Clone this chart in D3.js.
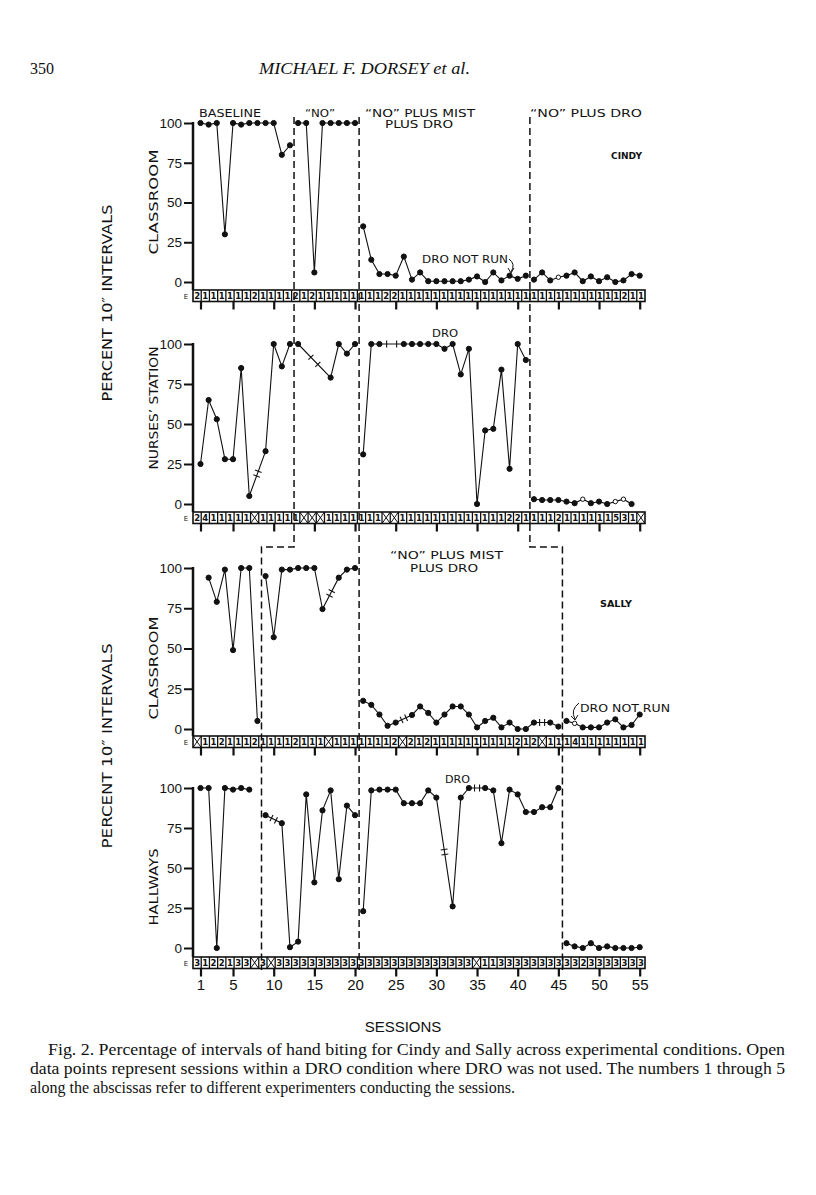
<!DOCTYPE html>
<meta charset="utf-8">
<style>
  body { margin: 0; background: #fff; }
  svg text { fill: #111; }
</style>
<svg id="fig" width="816" height="1195"></svg>
<script src="https://cdn.jsdelivr.net/npm/d3@7"></script>
<script>

var sessions = d3.range(1, 56)
var yTicks = [0, 25, 50, 75, 100]
var sessionTicks = [1, 5, 10, 15, 20, 25, 30, 35, 40, 45, 50, 55]

// condition limits (first and last session of each phase)
var cindyPhases = [[1, 12], [13, 20], [21, 41], [42, 55]]
var sallyPhases = [[1, 8], [9, 20], [21, 45], [46, 55]]

// percent of 10" intervals with hand biting, one value per session (null = no session)
var cindyClassroom = [100, 99, 100, 30, 100, 99, 100, 100, 100, 100, 80, 86,
  100, 100, 6, 100, 100, 100, 100, 100,
  35, 14, 5, 5, 4, 16, 1.5, 6, 0.5, 0.5, 0.5, 0.5, 0.5, 1.5, 3.5, 0, 6, 1, 4, 2, 4,
  1.5, 6, 1, 3, 4, 6, 0.5, 3.5, 0.5, 3, 0, 1, 5, 4]
var cindyNurses = [25, 65, 53, 28, 28, 85, 5, null, 33, 100, 86, 100,
  100, null, null, null, 79, 100, 94, 100,
  31, 100, 100, null, null, 100, 100, 100, 100, 100, 97, 100, 81, 97, 0, 46, 47, 84, 22, 100, 90,
  3, 2.5, 2.5, 2.5, 1.5, 0.5, 3, 0.5, 1.5, 0, 1.5, 3, 0, null]
var sallyClassroom = [null, 94, 79, 99, 49, 100, 100, 5,
  95, 57, 99, 99, 100, 100, 100, 74.5, null, 94, 99, 100,
  17.5, 15, 9, 2, 4, null, 8.7, 14, 10, 4, 9, 14, 14, 9, 1, 5, 7, 1, 4, 0, 0, 4, null, 4, 1.5,
  5, 3.5, 1, 1, 1, 4, 6, 1, 2.5, 9]
var sallyHallways = [100, 100, 0, 100, 99, 100, 99, null,
  83, null, 78, 0.5, 4, 96, 41, 86, 98.5, 43, 89, 83,
  23, 98.5, 99, 99, 99, 90.5, 90.5, 90.5, 98.5, 94, null, 26, 94, 100, null, 100, 98.5, 65.5, 99, 96, 85, 85, 88, 88, 100,
  3, 1, 0, 3, 0, 1, 0, 0, 0, 0.5]

// sessions in a DRO condition where DRO was not used (open points)
var cindyClassroomOpen = [45]
var cindyNursesOpen = [48, 52, 53]
var sallyClassroomOpen = [47]
var sallyHallwaysOpen = []

// experimenter per session, X = no session
var cindyClassroomExp = ("211111121111" + "21211111" + "111221111111111111111" + "11111111111211").split("")
var cindyNursesExp = ("2411111X1111" + "1XXX1111" + "111XX1111111111111221" + "1112111111531X").split("")
var sallyClassroomExp = ("X1121112" + "11112111X111" + "11112X2121111111111212X11" + "1411111111").split("")
var sallyHallwaysExp = ("3122133X" + "3X3333333333" + "33333333333333X1133333333" + "3323333333").split("")

var svg = d3.select("#fig")
var x = d3.scaleLinear().domain([1, 55]).range([200.5, 639.7])
var xb = d3.scaleBand().domain(sessions).range([193, 645])
var letter = "DejaVu Sans, sans-serif"
var narrow = "Liberation Sans Narrow, Liberation Sans, sans-serif"
var serif = "Liberation Serif, Times New Roman, serif"

var panels = [
  {values: cindyClassroom, open: cindyClassroomOpen, exps: cindyClassroomExp, phases: cindyPhases, top: 123, bottom: 282, row: 290},
  {values: cindyNurses, open: cindyNursesOpen, exps: cindyNursesExp, phases: cindyPhases, top: 344, bottom: 504, row: 512},
  {values: sallyClassroom, open: sallyClassroomOpen, exps: sallyClassroomExp, phases: sallyPhases, top: 568, bottom: 729, row: 736},
  {values: sallyHallways, open: sallyHallwaysOpen, exps: sallyHallwaysExp, phases: sallyPhases, top: 788, bottom: 948, row: 957}
]

panels.forEach(function(p, k) {
  var y = d3.scaleLinear().domain([0, 100]).range([p.bottom, p.top])
  var g = svg.append("g")
  var rowH = 11.5

  // y axis
  g.append("line")
    .attr("x1", 193).attr("x2", 193)
    .attr("y1", p.top - 1).attr("y2", p.row)
    .attr("stroke", "#111").attr("stroke-width", 2.5)
  var ya = g.append("g")
    .attr("transform", "translate(193,0)")
    .call(d3.axisLeft(y).tickValues(yTicks).tickSize(9).tickPadding(2))
  ya.select(".domain").remove()
  ya.selectAll("line").attr("stroke", "#111").attr("stroke-width", 2)
  ya.selectAll("text")
    .attr("font-family", "Liberation Sans, sans-serif").attr("font-size", 13.5).attr("fill", "#111")

  // experimenter row
  g.append("text")
    .attr("x", 186).attr("y", p.row + 8.5)
    .attr("text-anchor", "middle")
    .attr("font-family", letter).attr("font-size", 7)
    .text("E")
  g.append("rect")
    .attr("x", 193).attr("y", p.row)
    .attr("width", 452).attr("height", rowH)
    .attr("fill", "#fff").attr("stroke", "#111").attr("stroke-width", 1.6)
  g.selectAll(".sep")
    .data(sessions.slice(1))
    .enter().append("line")
    .attr("x1", function(s) { return xb(s) }).attr("x2", function(s) { return xb(s) })
    .attr("y1", p.row).attr("y2", p.row + rowH)
    .attr("stroke", "#111").attr("stroke-width", 1.3)
  sessions.forEach(function(s, i) {
    var e = p.exps[i]
    var bx = xb(s), bw = xb.bandwidth()
    if (e == "X") {
      g.append("path")
        .attr("d", "M" + bx + "," + p.row + "L" + (bx + bw) + "," + (p.row + rowH) +
          "M" + (bx + bw) + "," + p.row + "L" + bx + "," + (p.row + rowH))
        .attr("stroke", "#111").attr("stroke-width", 1)
    } else {
      g.append("text")
        .attr("x", bx + bw / 2).attr("y", p.row + 9)
        .attr("text-anchor", "middle")
        .attr("font-family", letter).attr("font-size", 8.5).attr("font-weight", "bold")
        .text(e)
    }
  })

  // session ticks under the row
  var xa = g.append("g")
    .attr("transform", "translate(0," + (p.row + rowH) + ")")
    .call(d3.axisBottom(x).tickValues(sessionTicks).tickSize(8).tickPadding(3)
      .tickFormat(k == 3 ? d3.format("d") : ""))
  xa.select(".domain").remove()
  xa.selectAll("line").attr("stroke", "#111").attr("stroke-width", 2.2)
  xa.selectAll("text")
    .attr("font-family", narrow)
    .attr("font-size", 15).attr("fill", "#111")

  // data, one path per condition
  var line = d3.line()
    .x(function(s) { return x(s) })
    .y(function(s) { return y(p.values[s - 1]) })
  p.phases.forEach(function(ph) {
    var pts = sessions.filter(function(s) {
      return s >= ph[0] && s <= ph[1] && p.values[s - 1] != null
    })
    g.append("path")
      .datum(pts)
      .attr("d", line)
      .attr("fill", "none").attr("stroke", "#111").attr("stroke-width", 1.1)
    // break marks where a session is skipped
    for (var i = 0; i < pts.length - 1; i++) {
      if (pts[i + 1] - pts[i] < 2) continue
      var x1 = x(pts[i]), y1 = y(p.values[pts[i] - 1])
      var x2 = x(pts[i + 1]), y2 = y(p.values[pts[i + 1] - 1])
      var len = Math.hypot(x2 - x1, y2 - y1)
      var ux = (x2 - x1) / len, uy = (y2 - y1) / len
      var mx = (x1 + x2) / 2, my = (y1 + y2) / 2
      var gap = pts[i + 1] - pts[i] > 2 ? 5 : 2.5
      ;[-gap, gap].forEach(function(o) {
        var cx = mx + ux * o, cy = my + uy * o
        g.append("line")
          .attr("x1", cx - uy * 3.5).attr("y1", cy + ux * 3.5)
          .attr("x2", cx + uy * 3.5).attr("y2", cy - ux * 3.5)
          .attr("stroke", "#111").attr("stroke-width", 1.1)
      })
    }
  })
  g.selectAll(".dot")
    .data(sessions.filter(function(s) { return p.values[s - 1] != null }))
    .enter().append("circle")
    .attr("cx", function(s) { return x(s) })
    .attr("cy", function(s) { return y(p.values[s - 1]) })
    .attr("r", function(s) { return p.open.indexOf(s) >= 0 ? 2.2 : 2.6 })
    .attr("fill", function(s) { return p.open.indexOf(s) >= 0 ? "#fff" : "#111" })
    .attr("stroke", "#111").attr("stroke-width", 1)
})

// phase change lines
var phaseLines = [
  [[x(12.5), 117], [x(12.5), 547], [x(8.5), 547], [x(8.5), 970]],
  [[x(20.5), 117], [x(20.5), 970]],
  [[x(41.5), 117], [x(41.5), 547], [x(45.5), 547], [x(45.5), 970]]
]
phaseLines.forEach(function(l) {
  svg.append("path")
    .attr("d", d3.line()(l))
    .attr("fill", "none").attr("stroke", "#111")
    .attr("stroke-width", 1.5).attr("stroke-dasharray", "7,4")
})

// condition and panel labels
function label(t, x0, y0, w, opts) {
  opts = opts || {}
  var el = svg.append("text")
    .attr("x", x0).attr("y", y0)
    .attr("font-family", letter).attr("font-size", opts.size || 10)
    .attr("font-weight", opts.bold ? "bold" : "normal")
    .text(t)
  if (w) el.attr("textLength", w).attr("lengthAdjust", "spacingAndGlyphs")
  return el
}
label("BASELINE", 199, 117, 62)
label("\u201CNO\u201D", 305, 117, 30)
label("\u201CNO\u201D PLUS MIST", 365, 117, 110)
label("PLUS DRO", 385, 128, 68)
label("\u201CNO\u201D PLUS DRO", 530, 117, 112)
label("CINDY", 611, 159, 31, {bold: true, size: 9.5})
label("DRO NOT RUN", 422, 263, 86)
label("DRO", 432, 337, 26)
label("\u201CNO\u201D PLUS MIST", 390, 559, 113)
label("PLUS DRO", 410, 572, 68)
label("SALLY", 600, 607, 32, {bold: true, size: 9.5})
label("DRO NOT RUN", 580, 712, 90)
label("DRO", 445, 783, 25)

// pointers for the DRO NOT RUN notes
svg.append("path")
  .attr("d", "M509,259 Q516,264 511,272 M508,268 L511,273 L514,268")
  .attr("fill", "none").attr("stroke", "#111").attr("stroke-width", 1)
svg.append("path")
  .attr("d", "M579,703 Q570,710 575,719 M571,716 L575,720 L578,715")
  .attr("fill", "none").attr("stroke", "#111").attr("stroke-width", 1)

// axis titles
function vtitle(t, cx, cy, w, size) {
  svg.append("text")
    .attr("transform", "translate(" + cx + "," + cy + ") rotate(-90)")
    .attr("text-anchor", "middle")
    .attr("font-family", letter).attr("font-size", size)
    .attr("textLength", w).attr("lengthAdjust", "spacingAndGlyphs")
    .text(t)
}
vtitle("PERCENT 10\u2033 INTERVALS", 112, 303, 197, 14)
vtitle("PERCENT 10\u2033 INTERVALS", 112, 746, 205, 14)
vtitle("CLASSROOM", 158, 202, 105, 13)
vtitle("NURSES\u2019 STATION", 158, 408, 123, 13)
vtitle("CLASSROOM", 158, 668, 103, 13)
vtitle("HALLWAYS", 158, 887, 77, 13)

svg.append("text")
  .attr("x", 403).attr("y", 1032)
  .attr("text-anchor", "middle")
  .attr("font-family", narrow)
  .attr("font-size", 15)
  .text("SESSIONS")

// running head
svg.append("text")
  .attr("x", 30).attr("y", 74)
  .attr("font-family", serif).attr("font-size", 16)
  .text("350")
svg.append("text")
  .attr("x", 259).attr("y", 74)
  .attr("font-family", serif).attr("font-size", 17).attr("font-style", "italic")
  .attr("textLength", 211).attr("lengthAdjust", "spacingAndGlyphs")
  .text("MICHAEL F. DORSEY et al.")

// caption
var caption = [
  ["Fig. 2. Percentage of intervals of hand biting for Cindy and Sally across experimental conditions. Open", 48, 737],
  ["data points represent sessions within a DRO condition where DRO was not used. The numbers 1 through 5", 30, 755],
  ["along the abscissas refer to different experimenters conducting the sessions.", 30, 0]
]
caption.forEach(function(c, i) {
  var t = svg.append("text")
    .attr("x", c[1]).attr("y", 1055 + i * 19)
    .attr("font-family", serif).attr("font-size", 16)
    .text(c[0])
  if (c[2]) t.attr("textLength", c[2]).attr("lengthAdjust", "spacingAndGlyphs")
})

</script>
